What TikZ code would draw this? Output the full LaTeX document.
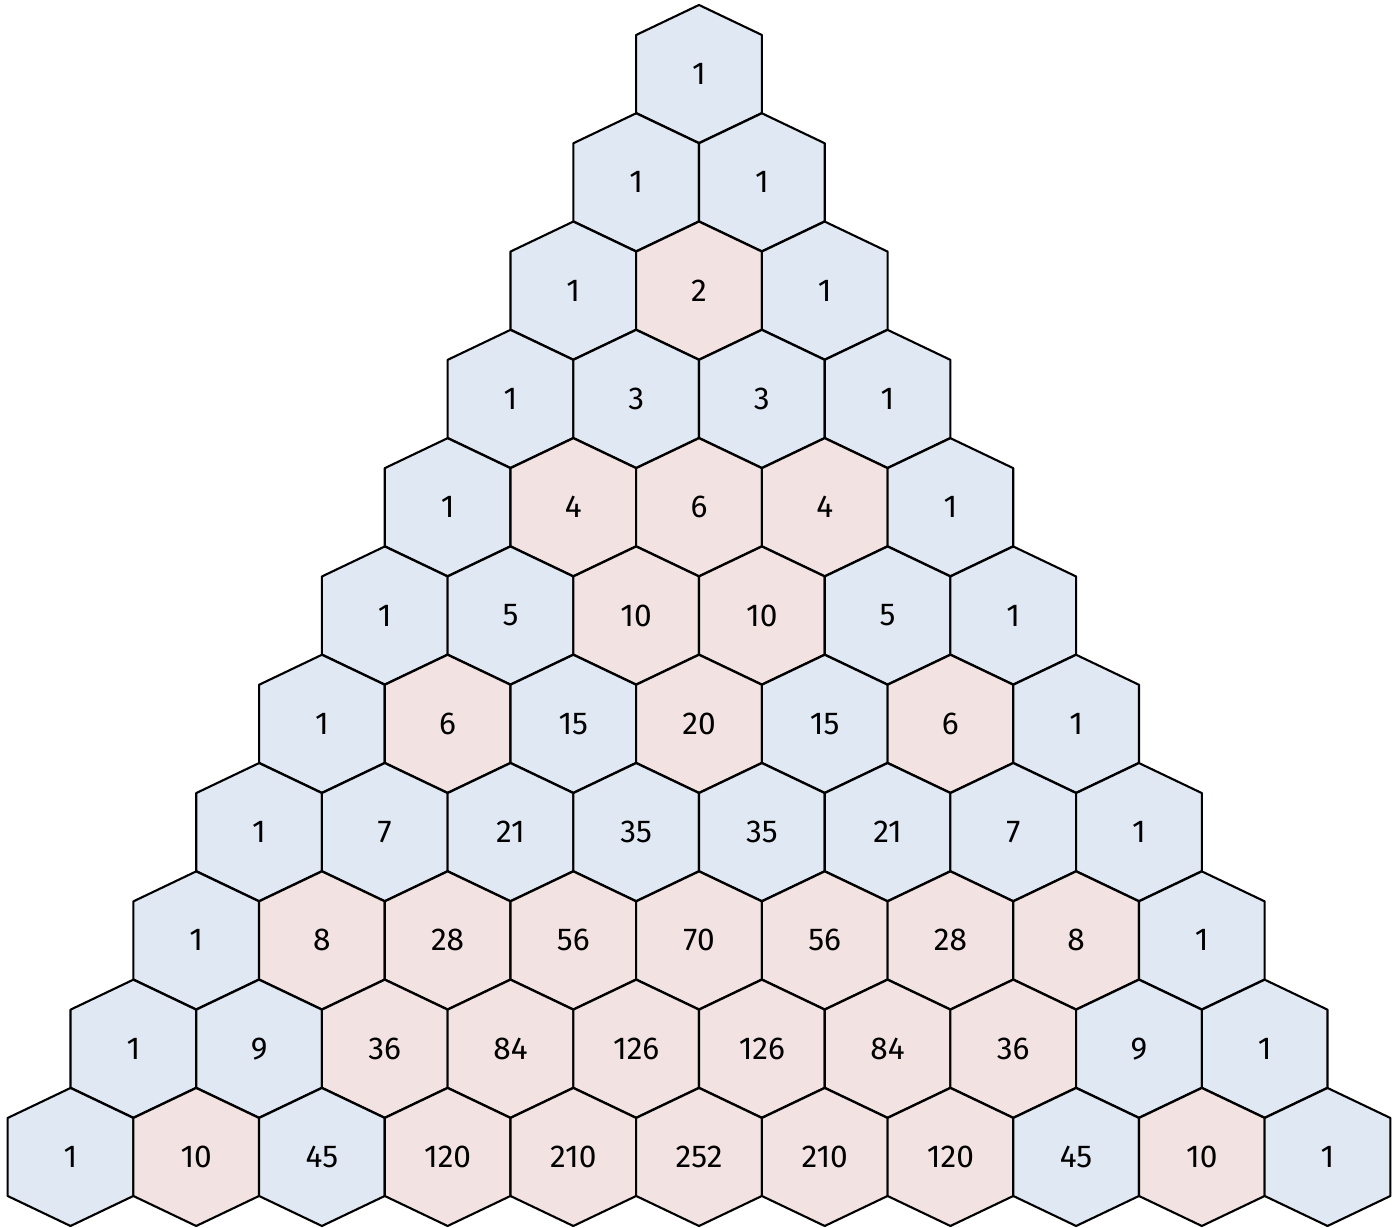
\documentclass[tikz,border=0pt]{standalone}
\usepackage{fontspec}
\setmainfont{Fira Sans}
\definecolor{hexblue}{RGB}{224,232,243}
\definecolor{hexpink}{RGB}{243,226,226}
\begin{document}
\begin{tikzpicture}[
  font=\fontsize{9}{11}\selectfont,
  cell/.style={draw=black,line width=0.6pt,line join=round},
  num/.style={inner sep=0pt}]
\useasboundingbox (0,0) rectangle (13.98,12.28);
\clip (0,0) rectangle (13.98,12.28);
\foreach \row [count=\r from 0] in {{1},{1,1},{1,2,1},{1,3,3,1},{1,4,6,4,1},
    {1,5,10,10,5,1},{1,6,15,20,15,6,1},{1,7,21,35,35,21,7,1},
    {1,8,28,56,70,56,28,8,1},{1,9,36,84,126,126,84,36,9,1},
    {1,10,45,120,210,252,210,120,45,10,1}}{
  \foreach \v [count=\k from 0] in \row {
    \pgfmathsetmacro{\cx}{6.99+(\k-\r/2)*1.257}
    \pgfmathsetmacro{\cy}{12.28-0.74-1.083*\r}
    \pgfmathtruncatemacro{\odd}{isodd(\v)}
    \ifnum\odd=1 \def\fc{hexblue}\else\def\fc{hexpink}\fi
    % one hexagon cell
    \filldraw[cell,fill=\fc] (\cx,\cy+0.69) -- ++(0.6285,-0.30) -- ++(0,-0.78)
      -- ++(-0.6285,-0.30) -- ++(-0.6285,0.30) -- ++(0,0.78) -- cycle;
    \node[num] (n-\r-\k) at (\cx,\cy) {\v};
  }
}
\end{tikzpicture}
\end{document}
